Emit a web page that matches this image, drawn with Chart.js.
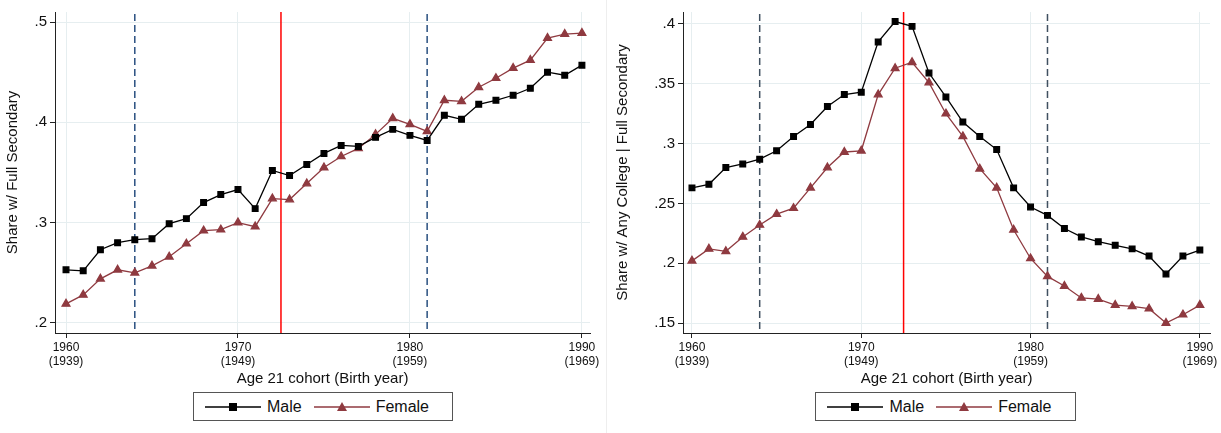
<!DOCTYPE html>
<html><head><meta charset="utf-8">
<script src="https://cdn.jsdelivr.net/npm/chart.js@4"></script>
<style>
body{margin:0;background:#fff;font-family:"Liberation Sans",Arial,sans-serif;}
.panel{position:absolute;top:0;height:390px;}
.legend{position:absolute;top:392px;height:29px;border:1px solid #555;box-sizing:border-box;display:flex;align-items:center;justify-content:center;font-size:16px;color:#111;}
.legend span{margin:0 12px 0 6px;}
.sep{position:absolute;left:606px;top:0;width:1px;height:433px;background:#eee;}
</style></head><body>
<div class="panel" style="left:0;width:605px"><canvas id="c1"></canvas></div>
<div class="panel" style="left:610px;width:611px"><canvas id="c2"></canvas></div>
<div class="sep"></div>
<div class="legend" style="left:193px;width:260px" id="l1"></div>
<div class="legend" style="left:815px;width:261px" id="l2"></div>
<script>
const years = [];
for (let y = 1960; y <= 1990; y++) years.push(y);
const maleFull = [.253,.252,.273,.280,.283,.284,.299,.304,.320,.328,.333,.314,.352,.347,.358,.369,.377,.376,.385,.393,.387,.382,.407,.403,.418,.422,.427,.434,.450,.447,.457];
const femaleFull = [.219,.228,.244,.253,.250,.257,.266,.279,.292,.293,.300,.296,.324,.323,.339,.355,.366,.374,.388,.404,.398,.391,.422,.421,.435,.444,.454,.462,.484,.488,.489];
const maleCollege = [.263,.266,.280,.283,.287,.294,.306,.316,.331,.341,.343,.385,.402,.398,.359,.339,.318,.306,.295,.263,.247,.240,.229,.222,.218,.215,.212,.206,.191,.206,.211];
const femaleCollege = [.202,.212,.210,.222,.232,.241,.246,.263,.280,.293,.294,.341,.363,.368,.351,.325,.306,.279,.263,.228,.204,.189,.181,.171,.170,.165,.164,.162,.150,.157,.165];
const xTicks = [1960,1970,1980,1990];
const birthYears = {1960:"(1939)",1970:"(1949)",1980:"(1959)",1990:"(1969)"};
const dashedYears = [1964,1981];
const redYear = 1972.5;
const FEM = '#8f3a40';

function vlines(dashColor){
  return {id:'vl',beforeDatasetsDraw(ch){
    const c=ch.ctx,x=ch.scales.x,a=ch.chartArea;
    c.save();
    c.strokeStyle=dashColor;c.lineWidth=1.5;c.setLineDash([7,4]);
    dashedYears.forEach(v=>{const p=x.getPixelForValue(v);c.beginPath();c.moveTo(p,a.top+2);c.lineTo(p,a.bottom);c.stroke();});
    c.setLineDash([]);c.strokeStyle='#ff0000';
    const p=x.getPixelForValue(redYear);c.beginPath();c.moveTo(p,a.top);c.lineTo(p,a.bottom);c.stroke();
    c.restore();
  }};
}
function make(id,m,f,ymin,ymax,ystep,ylabel,yw,xmin,xmax,padR,dashColor,fmt){
  new Chart(document.getElementById(id),{
    type:'line',
    data:{labels:years,datasets:[
      {label:'Male',data:years.map((y,i)=>({x:y,y:m[i]})),borderColor:'#000',backgroundColor:'#000',borderWidth:1.3,pointStyle:'rect',pointRadius:4,tension:0},
      {label:'Female',data:years.map((y,i)=>({x:y,y:f[i]})),borderColor:FEM,backgroundColor:FEM,borderWidth:1.3,pointStyle:'triangle',pointRadius:4.5,tension:0}
    ]},
    options:{responsive:true,maintainAspectRatio:false,animation:false,
      layout:{padding:{top:12,right:padR,bottom:0,left:0}},
      plugins:{legend:{display:false},tooltip:{enabled:false}},
      scales:{
        x:{type:'linear',min:xmin,max:xmax,
          afterBuildTicks(s){s.ticks=xTicks.map(v=>({value:v}));},
          afterFit(s){s.height=57;},
          ticks:{color:'#111',font:{size:12,family:'Liberation Sans'},maxRotation:0,autoSkip:false,padding:2,callback:v=>[String(v),birthYears[v]]},
          grid:{color:'#e6eef0',drawTicks:true,tickColor:'#222',tickLength:5},
          border:{color:'#222'},
          title:{display:true,text:'Age 21 cohort (Birth year)',color:'#111',font:{size:15,family:'Liberation Sans'},padding:{top:0,bottom:2}}},
        y:{min:ymin,max:ymax,
          afterBuildTicks(s){const t=[];for(let v=Math.ceil(ymin/ystep-1e-6)*ystep;v<=ymax+1e-9;v+=ystep)t.push({value:+v.toFixed(3)});s.ticks=t;},
          afterFit(s){s.width=yw;},
          ticks:{color:'#111',font:{size:15,family:'Liberation Sans'},padding:3,callback:fmt},
          grid:{color:'#e6eef0',tickColor:'#222',tickLength:5},
          border:{color:'#222'},
          title:{display:true,text:ylabel,color:'#111',font:{size:15,family:'Liberation Sans'},padding:{bottom:2}}}
      }},
    plugins:[vlines(dashColor)]
  });
}
const f1=v=>String(+v.toFixed(1)).replace(/^0/,'');
const f2=v=>String(+v.toFixed(2)).replace(/^0/,'');
make('c1',maleFull,femaleFull,0.19,0.51,0.1,'Share w/ Full Secondary',55,1959.36,1990.47,15,'#2a5080',f1);
make('c2',maleCollege,femaleCollege,0.1417,0.41,0.05,'Share w/ Any College | Full Secondary',73,1959.47,1990.6,11,'#405060',f2);

function legend(id){
  document.getElementById(id).innerHTML=
   '<svg width="56" height="12"><line x1="0" y1="6" x2="56" y2="6" stroke="#000" stroke-width="1.3"/><rect x="24" y="2" width="8" height="8" fill="#000"/></svg><span>Male</span>'+
   '<svg width="56" height="12"><line x1="0" y1="6" x2="56" y2="6" stroke="'+FEM+'" stroke-width="1.3"/><polygon points="28,1 33,10 23,10" fill="'+FEM+'"/></svg><span>Female</span>';
}
legend('l1');legend('l2');
</script></body></html>
